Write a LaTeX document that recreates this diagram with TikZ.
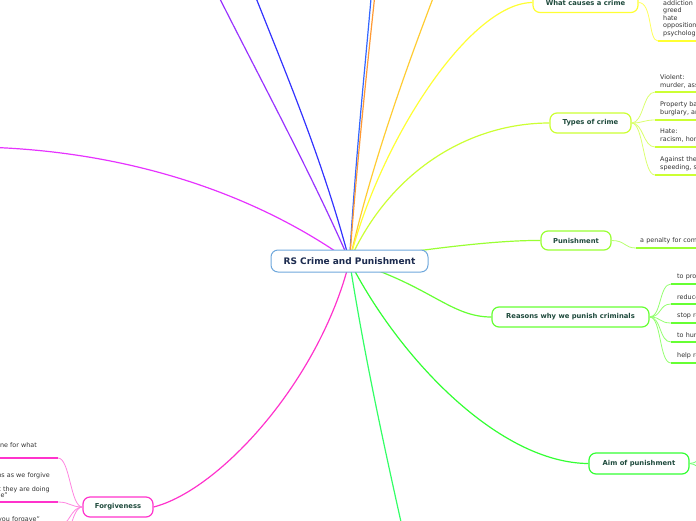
\documentclass[tikz,border=0pt]{standalone}
\usepackage{fontspec}
\setmainfont{DejaVu Sans}
\usepackage{tikz}
\usetikzlibrary{positioning,backgrounds}
\usepackage{xcolor}

\definecolor{rootblue}{HTML}{6FA8DC}
\definecolor{roottext}{HTML}{1B2A4E}
\definecolor{topictext}{HTML}{1E4A3C}
\definecolor{leaftext}{HTML}{333333}
\definecolor{cviolet}{HTML}{9933FF}
\definecolor{cblue}{HTML}{3333FF}
\definecolor{cskyblue}{HTML}{3366FF}
\definecolor{corange}{HTML}{FF9933}
\definecolor{cgold}{HTML}{FFCC33}
\definecolor{cyellow}{HTML}{FFFF33}
\definecolor{clime}{HTML}{CCFF33}
\definecolor{cgreenyellow}{HTML}{99FF33}
\definecolor{cgrass}{HTML}{66FF33}
\definecolor{cgreen}{HTML}{33FF33}
\definecolor{cmint}{HTML}{33FF66}
\definecolor{cpink}{HTML}{FF33CC}
\definecolor{cmagenta}{HTML}{E633FF}

\begin{document}
\begin{tikzpicture}[
    x=1pt, y=-1pt,
    topic/.style={rounded corners=7pt, draw, fill=white, line width=1.2pt, text=topictext,
        font=\fontsize{6.8}{8}\selectfont\bfseries, minimum height=20pt, inner sep=2pt},
    leaf/.style={anchor=south west, align=left, text=leaftext, text width=110pt,
        font=\fontsize{6.4}{7.6}\selectfont, inner xsep=5pt, inner ysep=4pt},
    leafleft/.style={anchor=south east, align=right, text=leaftext, text width=330pt,
        font=\fontsize{6.4}{6.8}\selectfont, inner xsep=8pt, inner ysep=2.5pt},
    branch/.style={line width=1.2pt},
    twig/.style={line width=0.8pt},
    ul/.style={line width=1.6pt}
]
    \useasboundingbox (0,0) rectangle (696,520);
    \clip (0,0) rectangle (696,520);

    % Central topic
    \node[topic, draw=rootblue, text=roottext, font=\fontsize{9}{11}\selectfont\bfseries,
        minimum width=157pt, minimum height=22pt, line width=1pt] (root) at (349.5,261) {RS Crime and Punishment};

    % Main topics
    \node[topic, draw=cyellow, minimum width=105pt] (causes) at (585.5,2.5) {What causes a crime};
    \node[topic, draw=clime, minimum width=81pt] (types) at (590.5,123) {Types of crime};
    \node[topic, draw=cgreenyellow, minimum width=70pt, minimum height=19pt] (punish) at (576,240.5) {Punishment};
    \node[topic, draw=cgrass, minimum width=157pt] (reasons) at (570.5,317) {Reasons why we punish criminals};
    \node[topic, draw=cgreen, minimum width=100pt, minimum height=21pt] (aim) at (639,463.5) {Aim of punishment};
    \node[topic, draw=cpink, minimum width=70pt] (forgive) at (118,507) {Forgiveness};

    % Free ends of branches leaving the page
    \coordinate (violetend) at (208,-25);
    \coordinate (blueend) at (247,-25);
    \coordinate (skyend) at (373,-25);
    \coordinate (orangeend) at (377,-25);
    \coordinate (goldend) at (442,-25);
    \coordinate (mintend) at (405,540);
    \coordinate (magentaend) at (-20,147);
    \coordinate (aim1) at (720,445);
    \coordinate (aim2) at (720,485);
    \coordinate (forgive4) at (58,548);

    % Subtopics
    \node[leaf] (causes1) at (658,41) {addiction\\greed\\hate\\opposition to an unjust law\\psychological problems};

    \node[leaf] (types1) at (655,92) {Violent:\\murder, assault};
    \node[leaf] (types2) at (655,120) {Property based:\\burglary, arson};
    \node[leaf] (types3) at (655,147) {Hate:\\racism, homophobia};
    \node[leaf] (types4) at (655,175) {Against the state:\\speeding, smuggling};

    \node[leaf, inner xsep=4pt] (punish1) at (636,248) {a penalty for committing a crime};

    \node[leaf, inner xsep=6pt] (reasons1) at (671,284) {to protect society};
    \node[leaf, inner xsep=6pt] (reasons2) at (671,304) {reduce crime};
    \node[leaf, inner xsep=6pt] (reasons3) at (671,323) {stop reoffending};
    \node[leaf, inner xsep=6pt] (reasons4) at (671,342) {to humiliate criminals};
    \node[leaf, inner xsep=6pt] (reasons5) at (671,363) {help reform criminals};

    % hidden tails: \rule keeps each line ending where the reference shows it
    \node[leafleft] (forgive1) at (58,458) {Forgiveness is pardoning someone for what\rule{13pt}{0pt}\\they have done wrong\rule{90pt}{0pt}};
    \node[leafleft] (forgive2) at (58,502) {The Lord's Prayer: forgive us our sins as we forgive\\those who sin against us\rule{90pt}{0pt}\\Jesus: "Father, forgive them, they do not know what they are doing\\and those who wronged me"\rule{42pt}{0pt}};
    \node[leafleft] (forgive3) at (58,526) {"Forgive others, just as God forgives what you forgave"\rule{10pt}{0pt}};

    \begin{scope}[on background layer]
    \clip (0,0) rectangle (696,520);
    % Branches off the page
    \draw[branch, cviolet] (root.center) .. controls (310,170) and (250,60) .. (violetend);
    \draw[branch, cblue] (root.center) .. controls (320,150) and (280,60) .. (blueend);
    \draw[branch, cskyblue] (root.center) .. controls (356,150) and (366,60) .. (skyend);
    \draw[branch, corange] (root.center) .. controls (358,150) and (368,60) .. (orangeend);
    \draw[branch, cgold] (root.center) .. controls (370,170) and (405,70) .. (goldend);
    \draw[branch, cmint] (root.center) .. controls (365,360) and (385,450) .. (mintend);
    \draw[branch, cmagenta] (root.center) .. controls (250,190) and (120,150) .. (magentaend);

    % Branches to topics
    \draw[branch, cyellow] (root.center) .. controls (380,140) and (470,3) .. (causes.west);
    \draw[branch, clime] (root.center) .. controls (390,170) and (470,123) .. (types.west);
    \draw[branch, cgreenyellow] (root.center) .. controls (430,248) and (500,240) .. (punish.west);
    \draw[branch, cgrass] (root.center) .. controls (430,285) and (450,317) .. (reasons.west);
    \draw[branch, cgreen] (root.center) .. controls (400,360) and (500,463) .. (aim.west);
    \draw[branch, cpink] (root.center) .. controls (320,380) and (220,490) .. (forgive.east);
    \end{scope}

    % Twigs and underlines
    \draw[twig, cyellow!80] (causes.east) .. controls +(14,0) and +(-10,0) .. (causes1.south west);
    \draw[ul, cyellow] (causes1.south west) -- (causes1.south east);

    \foreach \n in {types1,types2,types3,types4} {
        \draw[twig, clime!70] (types.east) .. controls +(12,0) and +(-12,0) .. (\n.south west);
        \draw[ul, clime] (\n.south west) -- (\n.south east);
    }

    \draw[twig, cgreenyellow!70] (punish.east) .. controls +(14,0) and +(-12,0) .. (punish1.south west);
    \draw[ul, cgreenyellow] (punish1.south west) -- (punish1.south east);

    \foreach \n in {reasons1,reasons2,reasons3,reasons4,reasons5} {
        \draw[twig, cgrass!70] (reasons.east) .. controls +(12,0) and +(-12,0) .. (\n.south west);
        \draw[ul, cgrass] (\n.south west) -- (\n.south east);
    }

    \draw[twig, cgreen!70] (aim.east) .. controls +(12,0) and +(-12,0) .. (aim1);
    \draw[twig, cgreen!70] (aim.east) .. controls +(12,0) and +(-12,0) .. (aim2);

    \foreach \n in {forgive1,forgive2,forgive3} {
        \draw[twig, cpink!60] (forgive.west) .. controls +(-12,0) and +(12,0) .. (\n.south east);
        \draw[ul, cpink] (\n.south west) -- (\n.south east);
    }
    \draw[twig, cpink!60] (forgive.west) .. controls +(-12,0) and +(12,0) .. (forgive4);
\end{tikzpicture}
\end{document}
